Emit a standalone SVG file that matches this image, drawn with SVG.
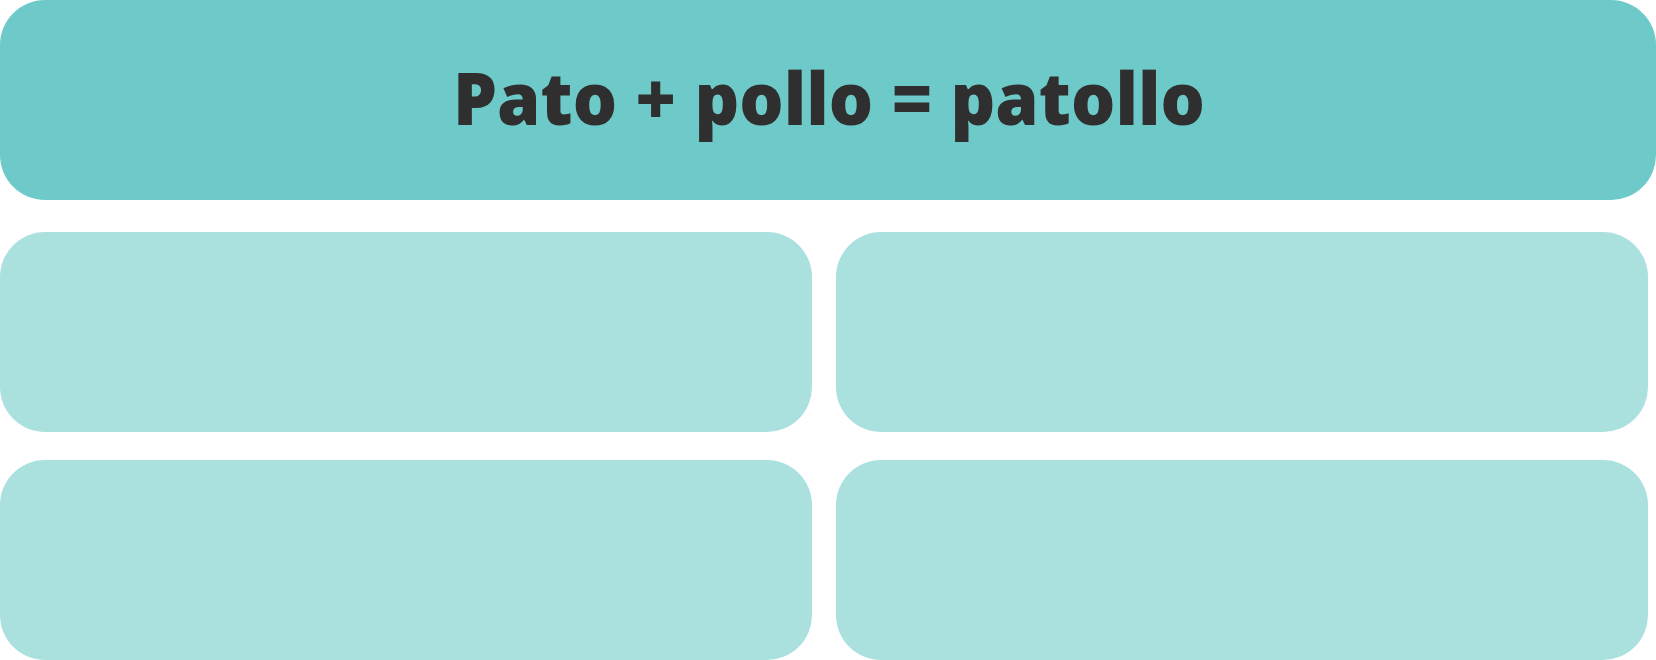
<svg xmlns="http://www.w3.org/2000/svg" width="1656" height="660" viewBox="0 0 1656 660">
<style>
.hd{fill:#6DCAC8}
.bx{fill:#AAE1DF}
.t{font-family:"Noto Sans",Lato,"Liberation Sans",sans-serif;font-weight:900;font-size:73px;fill:#2F2F2F}
</style>
<rect width="1656" height="660" fill="#FFFFFF"/>
<g id="title">
<rect class="hd" x="0" y="0" width="1656" height="200" rx="45" ry="45"/>
<text class="t" x="829" y="125" text-anchor="middle" textLength="752" lengthAdjust="spacingAndGlyphs">Pato + pollo = patollo</text>
</g>
<g id="box1"><rect class="bx" x="0" y="232" width="812" height="200" rx="45" ry="45"/></g>
<g id="box2"><rect class="bx" x="836" y="232" width="812" height="200" rx="45" ry="45"/></g>
<g id="box3"><rect class="bx" x="0" y="460" width="812" height="200" rx="45" ry="45"/></g>
<g id="box4"><rect class="bx" x="836" y="460" width="812" height="200" rx="45" ry="45"/></g>
<g id="connectors"></g>
</svg>
